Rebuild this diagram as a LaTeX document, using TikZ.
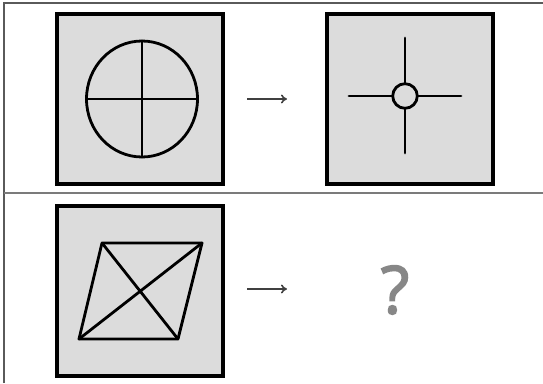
\documentclass[tikz,border=0pt]{standalone}
\usepackage{fontspec}
\setsansfont{Open Sans}
\usetikzlibrary{arrows.meta,positioning}
\definecolor{boxfill}{RGB}{220,220,220}
\definecolor{qgray}{RGB}{135,135,135}
\definecolor{rulegray}{RGB}{90,90,90}

\begin{document}
\begin{tikzpicture}[x=1pt,y=-1pt,
  panel/.style={draw=black,line width=4pt,fill=boxfill,minimum width=166pt,minimum height=170pt,inner sep=0pt},
  stroke/.style={line width=2.8pt,line cap=round},
  maparrow/.style={->,>={To[length=6pt,width=9pt]},line width=1.6pt,black!75}]
\useasboundingbox (0,0) rectangle (543,383);
% frame and divider
\draw[rulegray,line width=1.2pt] (4,383)--(4,3)--(543,3);
\draw[rulegray!80,line width=1.8pt] (4,193)--(543,193);
% top row
\node[panel] (circbox) at (140,99) {};
\node[panel] (crossbox) at (409.5,99) {};
\draw[stroke] (circbox.center)++(2,0) ellipse (55.5 and 58);
\draw[stroke] (86.5,99)--(197.5,99);
\draw[stroke] (142,41)--(142,157);
\draw[stroke] (405,96) circle (12.3);
\draw[stroke] (349,96)--(392.7,96) (417.3,96)--(461,96);
\draw[stroke] (405,38)--(405,83.7) (405,108.3)--(405,153);
\coordinate (a1s) at (247,99);
\coordinate (a1e) at (287,99);
\draw[maparrow] (a1s)--(a1e);
% bottom row
\node[panel] (quadbox) at (140,290.5) {};
\coordinate (tl) at (102,243);
\coordinate (tr) at (202,243);
\coordinate (br) at (178,339);
\coordinate (bl) at (79,339);
\draw[stroke,line join=round] (tl)--(tr)--(br)--(bl)--cycle;
\draw[stroke] (tl)--(br) (tr)--(bl);
\coordinate (a2s) at (247,289);
\coordinate (a2e) at (287,289);
\draw[maparrow] (a2s)--(a2e);
\node[qgray,font=\sffamily\addfontfeature{FakeBold=2.5}\fontsize{66}{68}\selectfont,inner sep=0pt] (unknown) at (395,290) {?};
\end{tikzpicture}
\end{document}
